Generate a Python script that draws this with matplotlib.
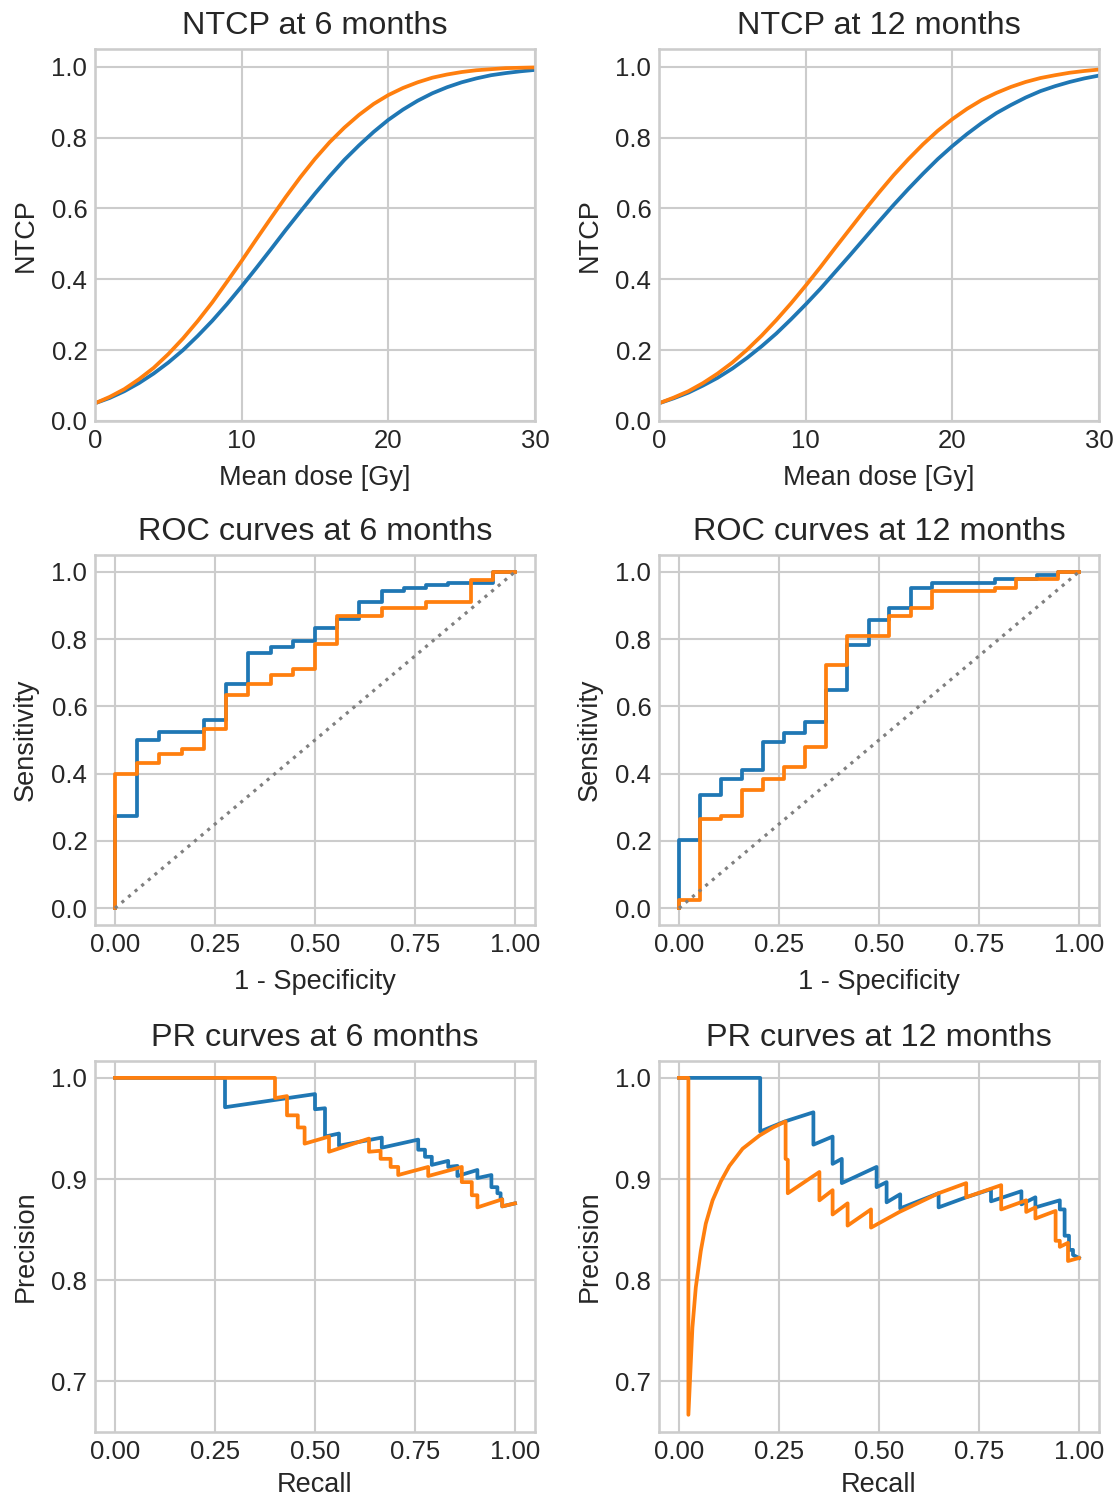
import matplotlib
matplotlib.use("Agg")
import matplotlib.pyplot as plt

# NTCP curves (dose in Gy, one value per Gy)
dose = list(range(0, 31))
ntcp6_blue = [0.050, 0.065, 0.084, 0.107, 0.134, 0.165, 0.200, 0.240, 0.283, 0.330,
              0.380, 0.432, 0.485, 0.539, 0.591, 0.642, 0.691, 0.737, 0.778, 0.816,
              0.850, 0.879, 0.904, 0.925, 0.942, 0.956, 0.967, 0.976, 0.982, 0.987, 0.991]
ntcp6_orange = [0.050, 0.068, 0.090, 0.118, 0.150, 0.189, 0.233, 0.282, 0.335, 0.393,
                0.452, 0.513, 0.573, 0.632, 0.688, 0.740, 0.787, 0.828, 0.864, 0.895,
                0.920, 0.940, 0.956, 0.969, 0.978, 0.985, 0.990, 0.993, 0.996, 0.997, 0.998]
ntcp12_blue = [0.050, 0.064, 0.080, 0.100, 0.122, 0.148, 0.178, 0.211, 0.247, 0.287,
               0.329, 0.373, 0.420, 0.467, 0.515, 0.563, 0.610, 0.655, 0.698, 0.739,
               0.776, 0.810, 0.841, 0.869, 0.892, 0.913, 0.931, 0.945, 0.957, 0.967, 0.975]
ntcp12_orange = [0.050, 0.066, 0.084, 0.107, 0.134, 0.165, 0.201, 0.241, 0.285, 0.332,
                 0.382, 0.434, 0.488, 0.541, 0.594, 0.645, 0.694, 0.739, 0.781, 0.819,
                 0.852, 0.881, 0.906, 0.926, 0.943, 0.957, 0.968, 0.976, 0.983, 0.988, 0.992]

# ROC curves (1 - specificity, sensitivity)
roc6_blue_fpr = [0, 0, 0.056, 0.056, 0.111, 0.111, 0.222, 0.222, 0.278, 0.278, 0.333, 0.333,
                 0.389, 0.389, 0.444, 0.444, 0.5, 0.5, 0.556, 0.556, 0.611, 0.611, 0.667, 0.667,
                 0.722, 0.722, 0.778, 0.778, 0.833, 0.833, 0.944, 0.944, 1.0]
roc6_blue_tpr = [0, 0.274, 0.274, 0.499, 0.499, 0.525, 0.525, 0.558, 0.558, 0.667, 0.667, 0.758,
                 0.758, 0.776, 0.776, 0.793, 0.793, 0.834, 0.834, 0.861, 0.861, 0.910, 0.910, 0.943,
                 0.943, 0.951, 0.951, 0.961, 0.961, 0.968, 0.968, 1.0, 1.0]
roc6_orange_fpr = [0, 0, 0.056, 0.056, 0.111, 0.111, 0.167, 0.167, 0.222, 0.222, 0.278, 0.278,
                   0.333, 0.333, 0.389, 0.389, 0.444, 0.444, 0.5, 0.5, 0.556, 0.556, 0.667, 0.667,
                   0.778, 0.778, 0.889, 0.889, 0.944, 0.944, 1.0]
roc6_orange_tpr = [0, 0.4, 0.4, 0.433, 0.433, 0.458, 0.458, 0.474, 0.474, 0.533, 0.533, 0.634,
                   0.634, 0.667, 0.667, 0.693, 0.693, 0.71, 0.71, 0.785, 0.785, 0.868, 0.868, 0.893,
                   0.893, 0.911, 0.911, 0.976, 0.976, 1.0, 1.0]
roc12_blue_fpr = [0, 0, 0.053, 0.053, 0.105, 0.105, 0.158, 0.158, 0.211, 0.211, 0.263, 0.263,
                  0.316, 0.316, 0.368, 0.368, 0.421, 0.421, 0.474, 0.474, 0.526, 0.526, 0.579, 0.579,
                  0.632, 0.632, 0.789, 0.789, 0.895, 0.895, 0.947, 0.947, 1.0]
roc12_blue_tpr = [0, 0.203, 0.203, 0.336, 0.336, 0.385, 0.385, 0.41, 0.41, 0.494, 0.494, 0.52,
                  0.52, 0.554, 0.554, 0.649, 0.649, 0.783, 0.783, 0.857, 0.857, 0.893, 0.893, 0.952,
                  0.952, 0.966, 0.966, 0.979, 0.979, 0.99, 0.99, 1.0, 1.0]
roc12_orange_fpr = [0, 0, 0.053, 0.053, 0.105, 0.105, 0.158, 0.158, 0.211, 0.211, 0.263, 0.263,
                    0.316, 0.316, 0.368, 0.368, 0.421, 0.421, 0.526, 0.526, 0.579, 0.579, 0.632, 0.632,
                    0.789, 0.789, 0.842, 0.842, 0.947, 0.947, 1.0]
roc12_orange_tpr = [0, 0.023, 0.023, 0.265, 0.265, 0.275, 0.275, 0.35, 0.35, 0.385, 0.385, 0.42,
                    0.42, 0.48, 0.48, 0.724, 0.724, 0.808, 0.808, 0.868, 0.868, 0.893, 0.893, 0.942,
                    0.942, 0.952, 0.952, 0.979, 0.979, 1.0, 1.0]

# PR curves (recall, precision)
pr6_blue_rec = [0, 0.275, 0.275, 0.5, 0.5, 0.525, 0.525, 0.56, 0.56, 0.667, 0.667, 0.758, 0.758,
                0.775, 0.775, 0.792, 0.792, 0.833, 0.833, 0.856, 0.856, 0.906, 0.906, 0.941, 0.941,
                0.956, 0.956, 0.964, 0.964, 0.968, 0.968, 1.0]
pr6_blue_prec = [1.0, 1.0, 0.971, 0.984, 0.969, 0.970, 0.942, 0.945, 0.933, 0.941, 0.931, 0.939, 0.929,
                 0.929, 0.922, 0.922, 0.914, 0.918, 0.912, 0.913, 0.903, 0.909, 0.901, 0.904, 0.892,
                 0.892, 0.886, 0.886, 0.880, 0.880, 0.873, 0.876]
pr6_orange_rec = [0, 0.4, 0.4, 0.43, 0.43, 0.457, 0.457, 0.474, 0.474, 0.535, 0.535, 0.635, 0.635,
                  0.664, 0.664, 0.689, 0.689, 0.708, 0.708, 0.783, 0.783, 0.867, 0.867, 0.892, 0.892,
                  0.906, 0.906, 0.968, 0.968, 1.0]
pr6_orange_prec = [1.0, 1.0, 0.980, 0.982, 0.963, 0.963, 0.951, 0.951, 0.935, 0.942, 0.927, 0.940, 0.927,
                   0.928, 0.920, 0.920, 0.912, 0.912, 0.904, 0.912, 0.903, 0.912, 0.897, 0.897, 0.884,
                   0.884, 0.872, 0.880, 0.873, 0.876]
pr12_blue_rec = [0, 0.203, 0.203, 0.265, 0.336, 0.336, 0.384, 0.384, 0.407, 0.407, 0.494, 0.494,
                 0.519, 0.519, 0.553, 0.553, 0.649, 0.649, 0.718, 0.780, 0.780, 0.856, 0.856, 0.891,
                 0.891, 0.952, 0.952, 0.964, 0.964, 0.975, 0.975, 0.985, 0.985, 1.0]
pr12_blue_prec = [1.0, 1.0, 0.947, 0.957, 0.966, 0.934, 0.942, 0.915, 0.920, 0.896, 0.912, 0.892,
                  0.897, 0.877, 0.885, 0.871, 0.886, 0.872, 0.882, 0.890, 0.878, 0.888, 0.875, 0.882,
                  0.872, 0.879, 0.870, 0.870, 0.844, 0.844, 0.830, 0.830, 0.825, 0.822]
pr12_orange_rec = [0, 0.0235, 0.0235, 0.0335, 0.042, 0.0545, 0.067, 0.084, 0.105, 0.126, 0.159, 0.201,
                   0.235, 0.2665, 0.2665, 0.272, 0.272, 0.351, 0.351, 0.384, 0.384, 0.4215, 0.4215,
                   0.48, 0.48, 0.551, 0.649, 0.718, 0.718, 0.8055, 0.8055, 0.868, 0.868, 0.891, 0.891,
                   0.9415, 0.9415, 0.952, 0.952, 0.9725, 0.9725, 1.0]
pr12_orange_prec = [1.0, 1.0, 0.667, 0.753, 0.793, 0.829, 0.856, 0.879, 0.898, 0.913, 0.930, 0.943,
                    0.951, 0.957, 0.920, 0.919, 0.886, 0.907, 0.879, 0.889, 0.865, 0.876, 0.854,
                    0.870, 0.852, 0.8675, 0.886, 0.896, 0.882, 0.894, 0.870, 0.879, 0.8675, 0.872, 0.861,
                    0.8685, 0.839, 0.839, 0.833, 0.837, 0.819, 0.822]

BLUE = "#1f77b4"
ORANGE = "#ff7f0e"

plt.rcParams.update({
    "font.family": ["Liberation Sans", "DejaVu Sans"],
    "axes.edgecolor": "0.8",
    "axes.linewidth": 1.875,
    "axes.axisbelow": True,
    "axes.labelpad": 9,
    "grid.color": "0.8",
    "grid.linewidth": 1.5,
    "text.color": "0.15",
    "axes.labelcolor": "0.15",
    "xtick.color": "0.15",
    "ytick.color": "0.15",
    "xtick.major.size": 0,
    "ytick.major.size": 0,
    "xtick.major.pad": 5.5,
    "ytick.major.pad": 5.5,
    "xtick.labelsize": 18.5,
    "ytick.labelsize": 18.5,
    "axes.labelsize": 19.5,
    "axes.titlesize": 23.3,
    "lines.linewidth": 2.7,
})

W, H = 1118, 1499
fig = plt.figure(figsize=(W / 100, H / 100), dpi=100)


def make_ax(left, top, right, bottom):
    return fig.add_axes([left / W, 1 - bottom / H, (right - left) / W, (bottom - top) / H])


lefts = [(95, 535), (659, 1099)]
rows = [(49, 421), (555, 925), (1061, 1432)]

axes = [[make_ax(l, t, r, b) for (l, r) in lefts] for (t, b) in rows]

for ax in [a for row in axes for a in row]:
    ax.grid(True)

# Row 1: NTCP
for ax, b, o, m in [(axes[0][0], ntcp6_blue, ntcp6_orange, 6),
                    (axes[0][1], ntcp12_blue, ntcp12_orange, 12)]:
    ax.plot(dose, b, color=BLUE)
    ax.plot(dose, o, color=ORANGE)
    ax.set_xlim(0, 30)
    ax.set_ylim(0, 1.05)
    ax.set_xticks([0, 10, 20, 30])
    ax.set_yticks([0.0, 0.2, 0.4, 0.6, 0.8, 1.0])
    ax.set_xlabel("Mean dose [Gy]")
    ax.set_ylabel("NTCP")
    ax.set_title("NTCP at %d months" % m, pad=11)

# Row 2: ROC
for ax, bf, bt, of, ot, m in [
        (axes[1][0], roc6_blue_fpr, roc6_blue_tpr, roc6_orange_fpr, roc6_orange_tpr, 6),
        (axes[1][1], roc12_blue_fpr, roc12_blue_tpr, roc12_orange_fpr, roc12_orange_tpr, 12)]:
    ax.plot(bf, bt, color=BLUE)
    ax.plot(of, ot, color=ORANGE)
    ax.plot([0, 1], [0, 1], color="gray", linestyle=(0, (1, 1.7)), linewidth=2.3)
    ax.set_xlim(-0.05, 1.05)
    ax.set_ylim(-0.05, 1.05)
    ax.set_xticks([0, 0.25, 0.5, 0.75, 1.0])
    ax.set_xticklabels(["0.00", "0.25", "0.50", "0.75", "1.00"])
    ax.set_yticks([0.0, 0.2, 0.4, 0.6, 0.8, 1.0])
    ax.set_xlabel("1 - Specificity")
    ax.set_ylabel("Sensitivity")
    ax.set_title("ROC curves at %d months" % m, pad=11)

# Row 3: PR
for ax, br, bp, orr, op, m in [
        (axes[2][0], pr6_blue_rec, pr6_blue_prec, pr6_orange_rec, pr6_orange_prec, 6),
        (axes[2][1], pr12_blue_rec, pr12_blue_prec, pr12_orange_rec, pr12_orange_prec, 12)]:
    ax.plot(br, bp, color=BLUE)
    ax.plot(orr, op, color=ORANGE)
    ax.set_xlim(-0.05, 1.05)
    ax.set_ylim(0.650, 1.0167)
    ax.set_xticks([0, 0.25, 0.5, 0.75, 1.0])
    ax.set_xticklabels(["0.00", "0.25", "0.50", "0.75", "1.00"])
    ax.set_yticks([0.7, 0.8, 0.9, 1.0])
    ax.set_xlabel("Recall", labelpad=6)
    ax.set_ylabel("Precision")
    ax.set_title("PR curves at %d months" % m, pad=11)

fig.savefig("out.png", dpi=100)
